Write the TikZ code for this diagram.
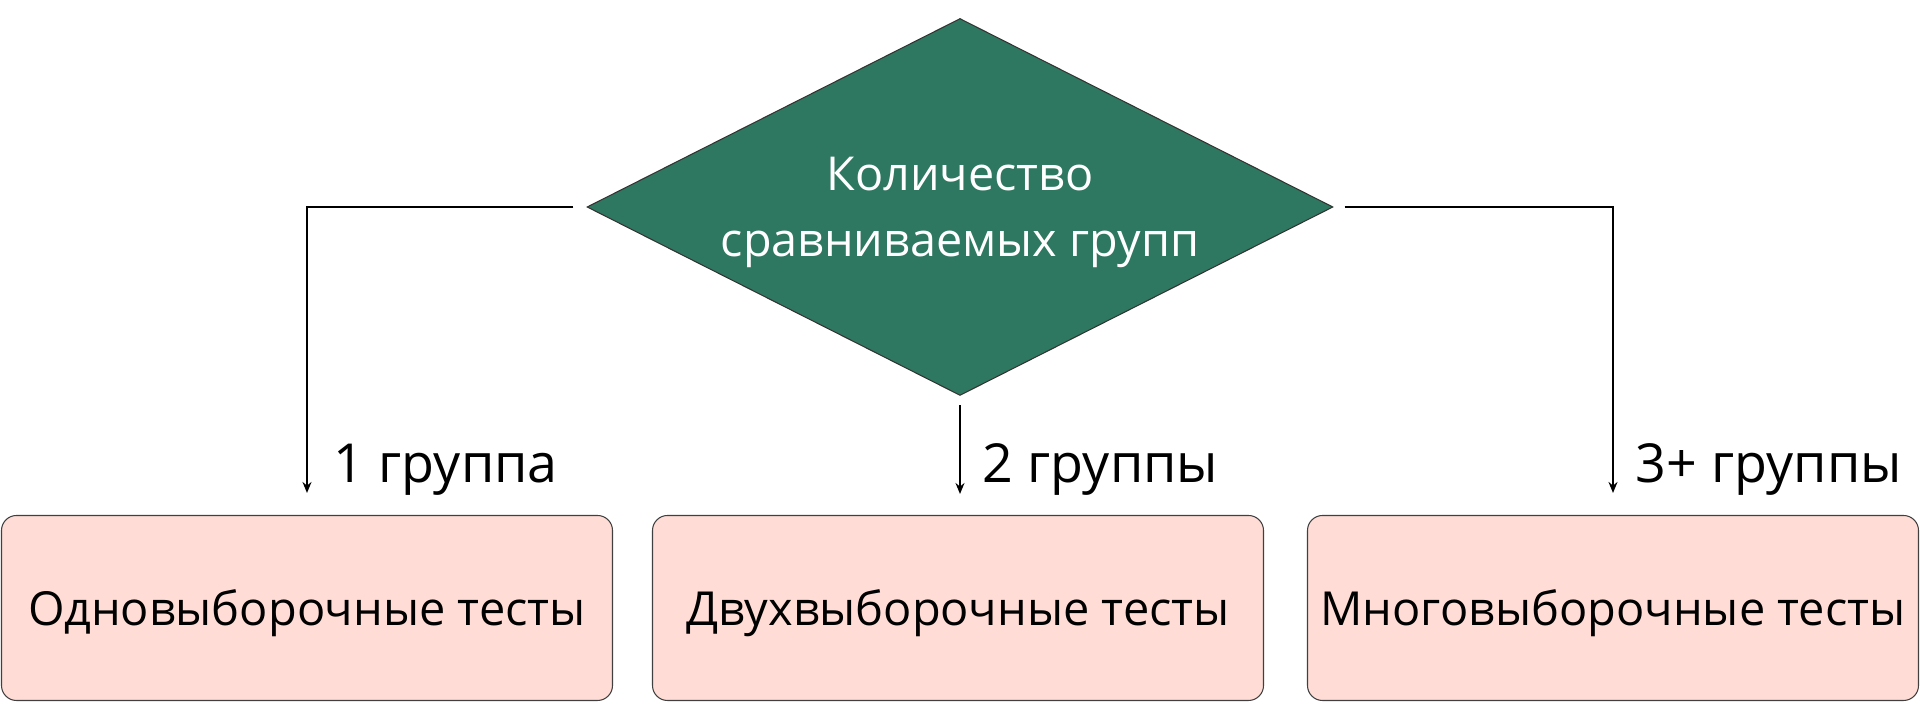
\documentclass[tikz,border=0pt]{standalone}
\usepackage{fontspec}
\setmainfont{Open Sans}
\usetikzlibrary{shapes.geometric,arrows.meta}
\definecolor{dgreen}{HTML}{2E7760}
\definecolor{boxpink}{HTML}{FFDDD6}
\begin{document}
\begin{tikzpicture}[x=0.1mm,y=-0.1mm,
  decision/.style={diamond, shape aspect=1.98, draw=black!80, line width=0.3pt, fill=dgreen, text=white,
    minimum width=74.6mm, minimum height=37.7mm, inner sep=0pt, align=center, text depth=0pt,
    font=\fontsize{13.3pt}{18.8pt}\selectfont},
  testbox/.style={draw=black!75, line width=0.3pt, fill=boxpink, rounded corners=1.5mm,
    minimum width=61.1mm, minimum height=18.5mm, inner sep=0pt, text depth=0pt,
    font=\fontsize{13.35pt}{16pt}\selectfont},
  branch/.style={-{Stealth[length=1.1mm,width=0.9mm]}, line width=0.45pt},
  lbl/.style={font=\fontsize{15.3pt}{19pt}\selectfont, anchor=base west, inner sep=0pt}]
\useasboundingbox (0,0) rectangle (1920,725);

% decision node
\node[decision] (dia) at (960,207) {Количество\\сравниваемых групп};

% outcome boxes
\node[testbox] (box1) at (307,608) {Одновыборочные тесты};
\node[testbox] (box2) at (958,608) {Двухвыборочные тесты};
\node[testbox] (box3) at (1613,608) {Многовыборочные тесты};

% branches
\draw[branch] ([xshift=-1.3mm]dia.west) -| ([yshift=2.2mm]box1.north);
\draw[branch] ([yshift=-0.9mm]dia.south) -- ([yshift=2.1mm]dia.south |- box2.north);
\draw[branch] ([xshift=1.1mm]dia.east) -| ([yshift=2.2mm]box3.north);

% branch labels
\node[lbl] (l1) at (333,483) {1 группа};
\node[lbl] (l2) at (982,483) {2 группы};
\node[lbl] (l3) at (1635,483) {3+ группы};
\end{tikzpicture}
\end{document}
